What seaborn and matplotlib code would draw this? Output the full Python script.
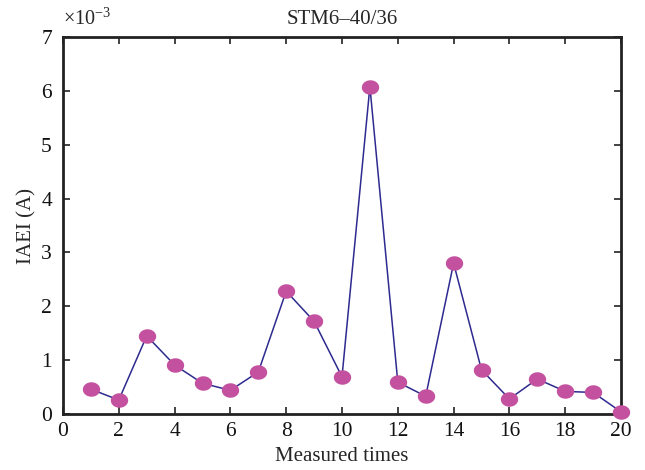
import numpy as np
import pandas as pd
import matplotlib
matplotlib.use("Agg")
import matplotlib.pyplot as plt
from matplotlib.path import Path
import seaborn as sns

measured_times = list(range(1, 21))
iaei_milli = [0.46, 0.26, 1.45, 0.91, 0.57, 0.44, 0.78, 2.28, 1.72, 0.69,
              6.08, 0.59, 0.33, 2.80, 0.82, 0.28, 0.65, 0.42, 0.40, 0.04]
x_ticks = [0, 2, 4, 6, 8, 10, 12, 14, 16, 18, 20]
y_ticks = [0, 1, 2, 3, 4, 5, 6, 7]

sns.set_style("ticks")
plt.rcParams["font.family"] = ["Liberation Serif", "DejaVu Serif"]
plt.rcParams["mathtext.fontset"] = "custom"
plt.rcParams["mathtext.rm"] = "Liberation Serif"
plt.rcParams["mathtext.it"] = "Liberation Serif:italic"

df = pd.DataFrame({"t": measured_times, "v": np.array(iaei_milli) * 1e-3})

# slightly wide elliptical marker
theta = np.linspace(0, 2 * np.pi, 60)
ellipse = Path(np.column_stack([1.2 * np.cos(theta), np.sin(theta)]), closed=True)

fig = plt.figure(figsize=(6.45, 4.70), dpi=100)
ax = fig.add_axes([63 / 645, 56 / 470, (621 - 63) / 645, (414 - 37) / 470])

sns.lineplot(data=df, x="t", y="v", ax=ax, color="#2E2A8F", linewidth=1.1,
             marker=ellipse, markersize=12.5, markerfacecolor="#C4519F",
             markeredgecolor="#C4519F", markeredgewidth=0, clip_on=False,
             zorder=5)

ax.set_xlim(0, 20)
ax.set_ylim(0, 7e-3)
ax.set_xticks(x_ticks)
ax.set_yticks([v * 1e-3 for v in y_ticks])
ax.set_yticklabels([str(v) for v in y_ticks])
ax.set_xticklabels([str(v) for v in x_ticks])
ax.tick_params(direction="in", length=5, width=1.2, labelsize=15.5,
               top=True, right=True, colors="#222222", labelcolor="#111111")
ax.tick_params(axis="x", pad=6)
ax.tick_params(axis="y", pad=8)
for s in ax.spines.values():
    s.set_linewidth(2.0)
    s.set_color("#222222")
    s.set_visible(True)

ax.set_xlabel("Measured times", fontsize=15, labelpad=4)
ax.set_ylabel("IAEI (A)", fontsize=15, labelpad=3)
ax.set_title("STM6\u201340/36", fontsize=15, pad=9)
ax.text(0.0, 1.018, "\u00d710$^{-3}$", transform=ax.transAxes, fontsize=14.5,
        ha="left", va="bottom")

fig.savefig("out.png", dpi=100)
